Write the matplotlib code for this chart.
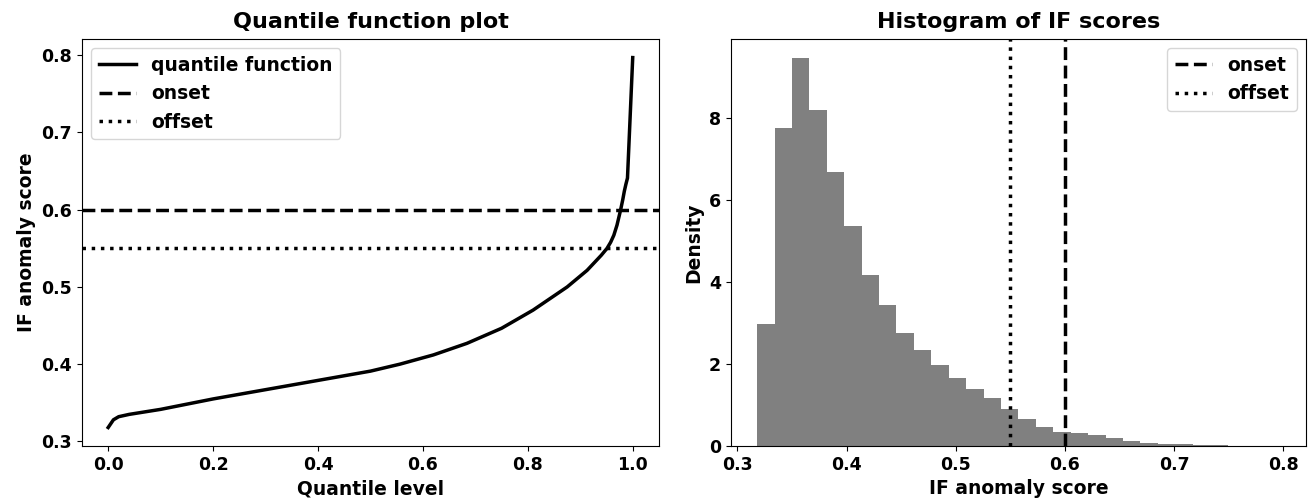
import numpy as np
import matplotlib
matplotlib.use("Agg")
import matplotlib.pyplot as plt

# quantile function
quantile_level = [0.0, 0.005, 0.01, 0.02, 0.04, 0.1, 0.2, 0.3, 0.4, 0.5, 0.556,
                  0.62, 0.684, 0.75, 0.81, 0.875, 0.913, 0.94, 0.951, 0.958,
                  0.964, 0.97, 0.977, 0.981, 0.984, 0.987, 0.99, 1.0]
quantile_score = [0.318, 0.323, 0.328, 0.332, 0.335, 0.3415, 0.355, 0.367, 0.379,
                  0.391, 0.400, 0.412, 0.427, 0.4465, 0.470, 0.500, 0.5215, 0.541,
                  0.550, 0.558, 0.567, 0.580, 0.600, 0.613, 0.624, 0.633, 0.641,
                  0.797]

# histogram (density) of IF scores, 30 bins between min and max score
score_min = 0.318
score_max = 0.797
n_bins = 30
hist_density = [2.99, 7.76, 9.46, 8.20, 6.70, 5.36, 4.17, 3.43, 2.77, 2.34,
                1.97, 1.65, 1.39, 1.16, 0.895, 0.65, 0.454, 0.349, 0.325, 0.276,
                0.203, 0.13, 0.08, 0.056, 0.056, 0.03, 0.015, 0.012, 0.01, 0.008]

onset = 0.60
offset = 0.55

plt.rcParams["font.family"] = "DejaVu Sans"
plt.rcParams["font.weight"] = "bold"
plt.rcParams["axes.labelweight"] = "bold"
plt.rcParams["axes.titleweight"] = "bold"
plt.rcParams["xtick.labelsize"] = 12.5
plt.rcParams["ytick.labelsize"] = 12.5
plt.rcParams["axes.labelsize"] = 13.5

fig = plt.figure(figsize=(13.09, 5.03), dpi=100)
ax1 = fig.add_axes([0.0626, 0.1133, 0.4408, 0.809])
ax2 = fig.add_axes([0.5584, 0.1133, 0.4393, 0.809])

#### left: quantile function
ax1.plot(quantile_level, quantile_score, color="black", lw=2.5, label="quantile function")
ax1.axhline(onset, color="black", lw=2.5, ls="--", label="onset")
ax1.axhline(offset, color="black", lw=2.5, ls=":", label="offset")
ax1.set_title("Quantile function plot", fontsize=16, pad=8)
ax1.set_xlabel("Quantile level")
ax1.set_ylabel("IF anomaly score")
ax1.legend(loc="upper left", fontsize=13.5)

#### right: histogram
edges = np.linspace(score_min, score_max, n_bins + 1)
ax2.hist(edges[:-1], bins=edges, weights=hist_density, color="gray")
ax2.axvline(onset, color="black", lw=2.5, ls="--", label="onset")
ax2.axvline(offset, color="black", lw=2.5, ls=":", label="offset")
ax2.set_title("Histogram of IF scores", fontsize=16, pad=8)
ax2.set_xlabel("IF anomaly score")
ax2.set_ylabel("Density")
ax2.legend(loc="upper right", fontsize=13.5)

fig.savefig("out.png", dpi=100)
